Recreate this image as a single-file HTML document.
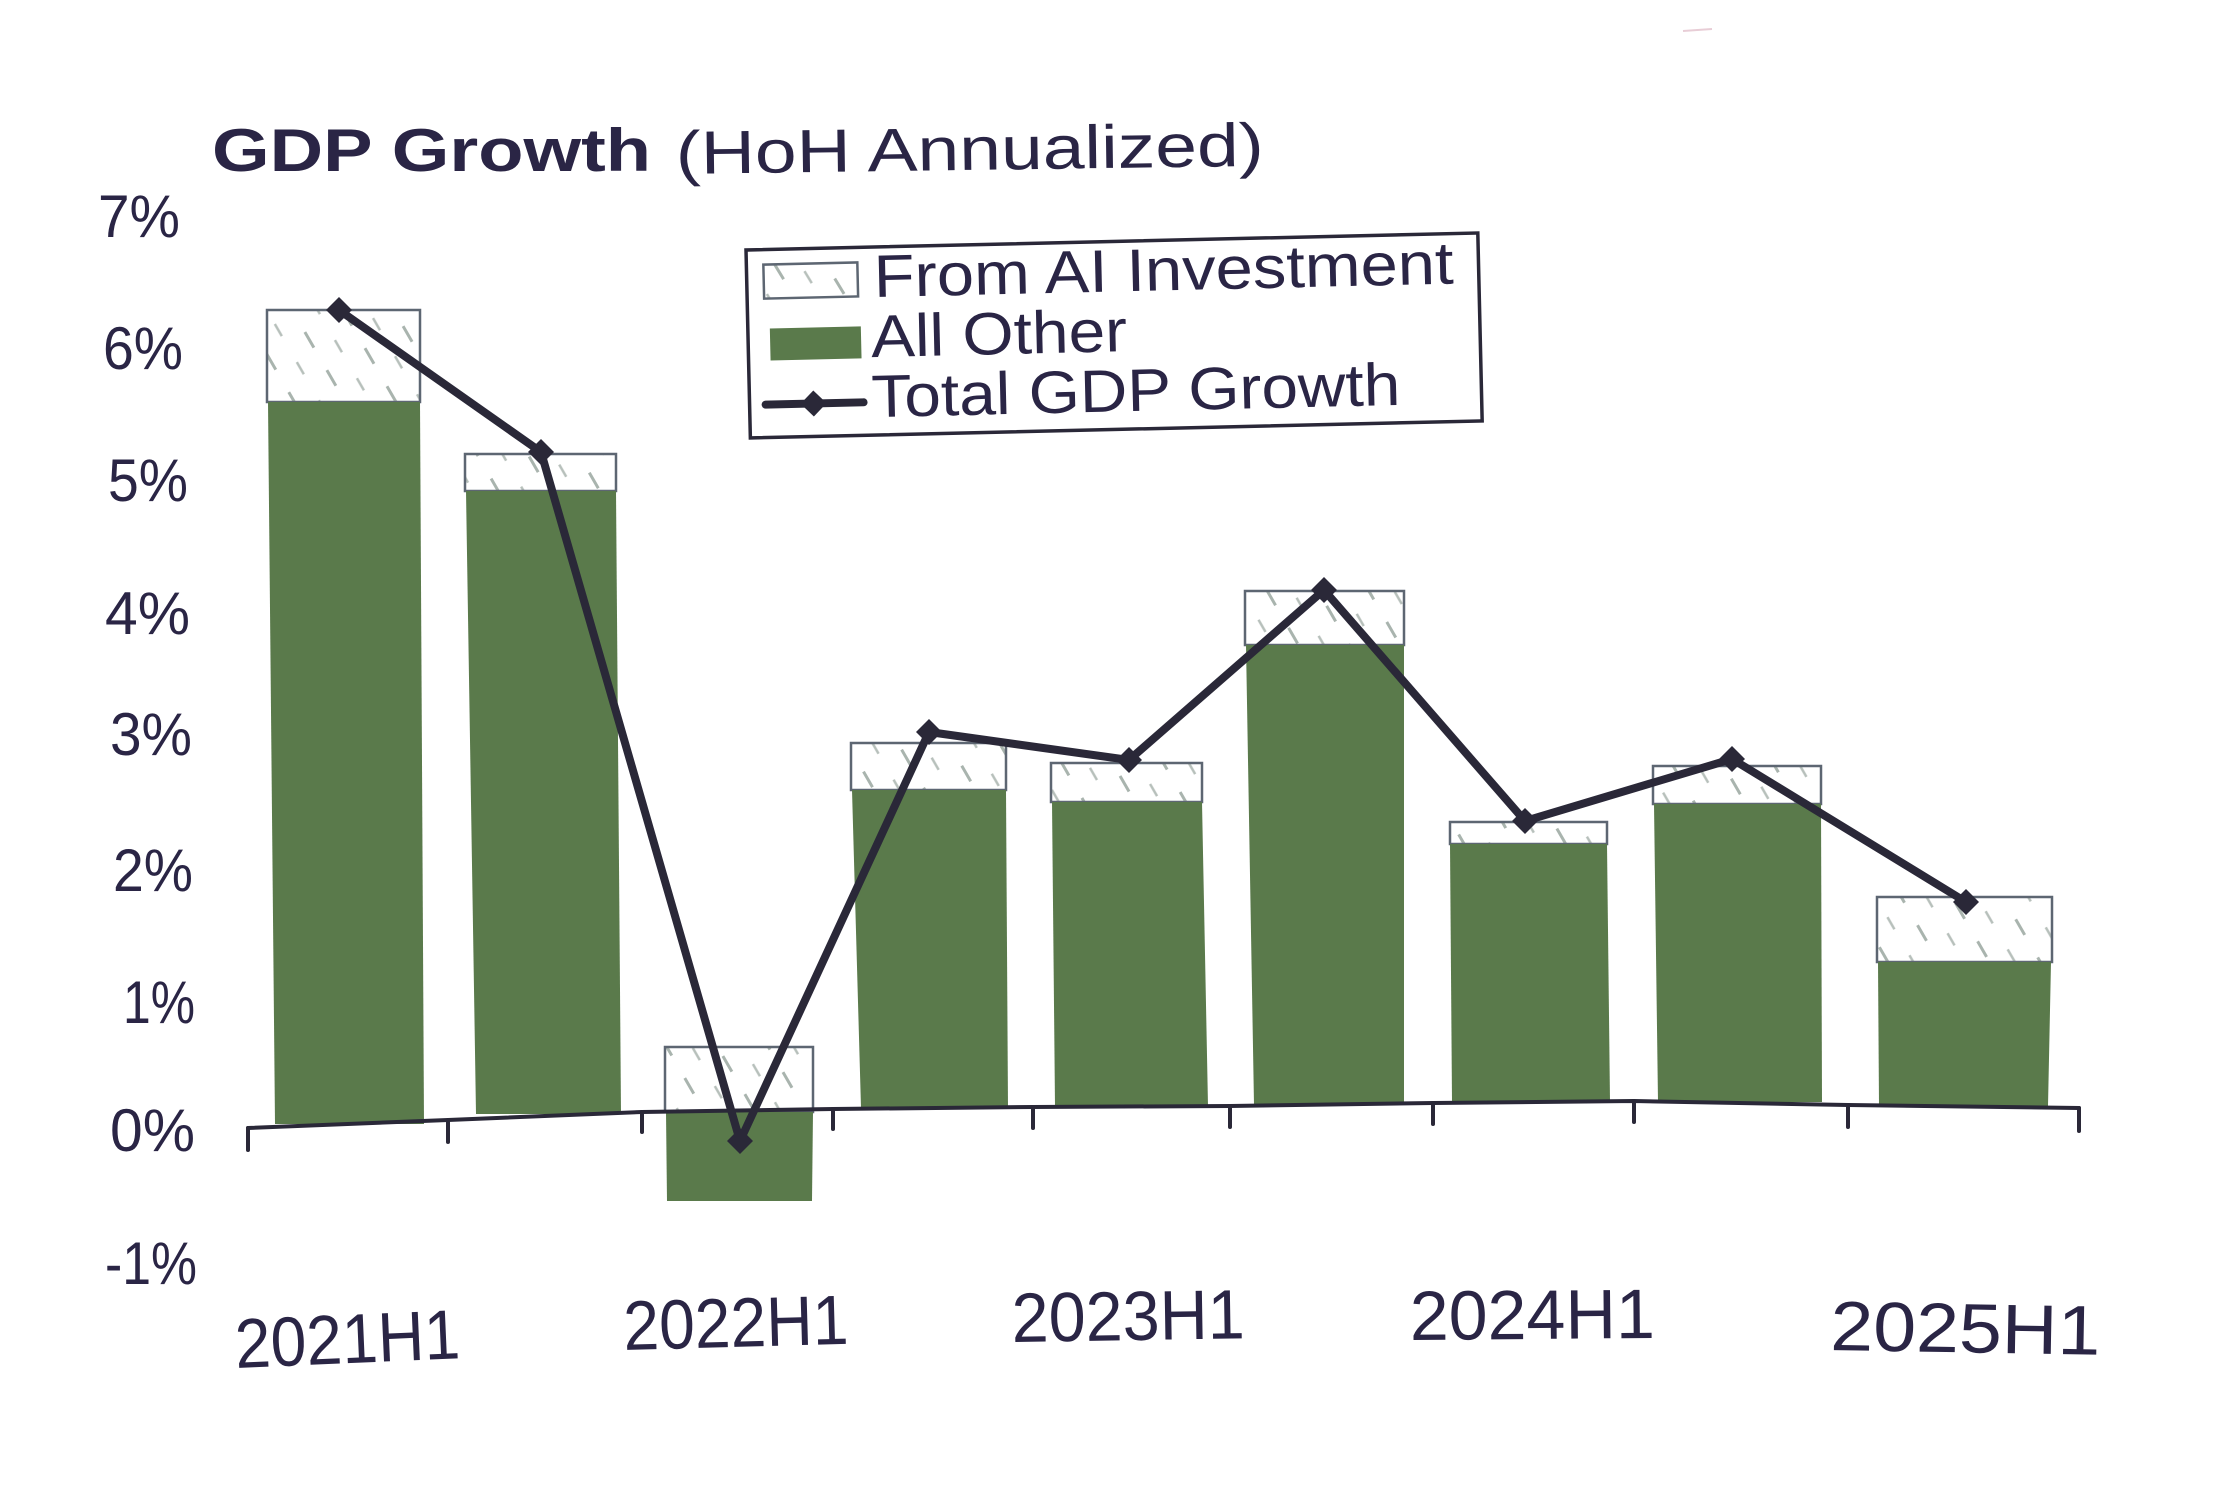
<!DOCTYPE html>
<html>
<head>
<meta charset="utf-8">
<style>
  html, body { margin: 0; padding: 0; background: #ffffff; }
  body { width: 2232px; height: 1498px; overflow: hidden; }
  svg { display: block; }
  text { font-family: "Liberation Sans", sans-serif; fill: #2a2545; }
</style>
</head>
<body>
<svg width="2232" height="1498" viewBox="0 0 2232 1498" xmlns="http://www.w3.org/2000/svg">
  <defs>
    <pattern id="hatch" patternUnits="userSpaceOnUse" width="44" height="44" patternTransform="rotate(-30)">
      <rect width="44" height="44" fill="#ffffff"/>
      <line x1="10" y1="0" x2="10" y2="18" stroke="#a9b4ae" stroke-width="3"/>
      <line x1="32" y1="22" x2="32" y2="36" stroke="#b7c0bb" stroke-width="2.5"/>
    </pattern>
  </defs>

  <rect width="2232" height="1498" fill="#ffffff"/>
  <line x1="1683" y1="31" x2="1712" y2="29" stroke="#e8cdd6" stroke-width="2"/>

  <!-- Title -->
  <text x="212" y="171" font-size="60" font-weight="bold" textLength="439" lengthAdjust="spacingAndGlyphs">GDP Growth</text>
  <g transform="rotate(-0.8 676 174)">
    <text x="676" y="174" font-size="61" textLength="588" lengthAdjust="spacingAndGlyphs">(HoH Annualized)</text>
  </g>

  <!-- Y axis labels -->
  <g font-size="60">
    <text x="98" y="237" textLength="82" lengthAdjust="spacingAndGlyphs">7%</text>
    <text x="103" y="369" textLength="80" lengthAdjust="spacingAndGlyphs">6%</text>
    <text x="108" y="501" textLength="80" lengthAdjust="spacingAndGlyphs">5%</text>
    <text x="105" y="634" textLength="85" lengthAdjust="spacingAndGlyphs">4%</text>
    <text x="110" y="755" textLength="82" lengthAdjust="spacingAndGlyphs">3%</text>
    <text x="113" y="891" textLength="80" lengthAdjust="spacingAndGlyphs">2%</text>
    <text x="123" y="1023" textLength="72" lengthAdjust="spacingAndGlyphs">1%</text>
    <text x="110" y="1151" textLength="85" lengthAdjust="spacingAndGlyphs">0%</text>
    <text x="105" y="1284" textLength="92" lengthAdjust="spacingAndGlyphs">-1%</text>
  </g>

  <!-- Bars: hatched (AI) parts -->
  <g stroke="#5d6672" stroke-width="2.5" fill="url(#hatch)">
    <rect x="267" y="310" width="153" height="92"/>
    <rect x="465" y="454" width="151" height="37"/>
    <rect x="665" y="1047" width="148" height="65"/>
    <rect x="851" y="743" width="155" height="47"/>
    <rect x="1051" y="763" width="151" height="39"/>
    <rect x="1245" y="591" width="159" height="54"/>
    <rect x="1450" y="822" width="157" height="22"/>
    <rect x="1653" y="766" width="168" height="38"/>
    <rect x="1877" y="897" width="175" height="65"/>
  </g>

  <!-- Bars: green (All Other) parts -->
  <g fill="#5a7a4b">
    <polygon points="268,402 420,402 424,1124 275,1124"/>
    <polygon points="466,491 616,491 621,1114 476,1114"/>
    <polygon points="666,1112 813,1112 812,1201 667,1201"/>
    <polygon points="852,790 1006,790 1008,1108 861,1108"/>
    <polygon points="1052,802 1202,802 1208,1106 1055,1106"/>
    <polygon points="1246,645 1404,645 1404,1105 1254,1105"/>
    <polygon points="1450,844 1607,844 1610,1102 1452,1102"/>
    <polygon points="1654,804 1821,804 1822,1102 1658,1102"/>
    <polygon points="1878,962 2051,962 2048,1106 1879,1106"/>
  </g>

  <!-- X axis -->
  <g stroke="#2a2838" stroke-width="4" fill="none" stroke-linecap="round">
    <polyline points="248,1128 448,1120 642,1112 833,1109 1033,1107 1230,1106 1433,1103 1634,1101 1848,1105 2079,1108"/>
    <line x1="248" y1="1128" x2="248" y2="1150"/>
    <line x1="448" y1="1120" x2="448" y2="1142"/>
    <line x1="642" y1="1112" x2="642" y2="1132"/>
    <line x1="833" y1="1109" x2="833" y2="1129"/>
    <line x1="1033" y1="1107" x2="1033" y2="1128"/>
    <line x1="1230" y1="1106" x2="1230" y2="1127"/>
    <line x1="1433" y1="1103" x2="1433" y2="1124"/>
    <line x1="1634" y1="1101" x2="1634" y2="1122"/>
    <line x1="1848" y1="1105" x2="1848" y2="1127"/>
    <line x1="2079" y1="1108" x2="2079" y2="1131"/>
  </g>

  <!-- Total GDP growth line -->
  <polyline points="339,310 541,452 740,1141 929,732 1129,760 1324,590 1525,821 1732,759 1966,902"
            fill="none" stroke="#2a2838" stroke-width="8" stroke-linejoin="round" stroke-linecap="round"/>
  <g fill="#2a2838">
    <polygon points="339,297 352,310 339,323 326,310"/>
    <polygon points="541,439 554,452 541,465 528,452"/>
    <polygon points="740,1128 753,1141 740,1154 727,1141"/>
    <polygon points="929,719 942,732 929,745 916,732"/>
    <polygon points="1129,747 1142,760 1129,773 1116,760"/>
    <polygon points="1324,577 1337,590 1324,603 1311,590"/>
    <polygon points="1525,808 1538,821 1525,834 1512,821"/>
    <polygon points="1732,746 1745,759 1732,772 1719,759"/>
    <polygon points="1966,889 1979,902 1966,915 1953,902"/>
  </g>

  <!-- X labels -->
  <g font-size="70">
    <text x="236" y="1368" textLength="225" lengthAdjust="spacingAndGlyphs" transform="rotate(-2.5 236 1368)">2021H1</text>
    <text x="624" y="1350" textLength="225" lengthAdjust="spacingAndGlyphs" transform="rotate(-1.6 624 1350)">2022H1</text>
    <text x="1012" y="1342" textLength="233" lengthAdjust="spacingAndGlyphs" transform="rotate(-0.9 1012 1342)">2023H1</text>
    <text x="1410" y="1340" textLength="245" lengthAdjust="spacingAndGlyphs" transform="rotate(-0.5 1410 1340)">2024H1</text>
    <text x="1830" y="1350" textLength="270" lengthAdjust="spacingAndGlyphs" transform="rotate(1 1830 1350)">2025H1</text>
  </g>

  <!-- Legend -->
  <g transform="rotate(-1.33 746 250)">
    <rect x="746" y="250" width="732" height="188" fill="#ffffff" stroke="#2a2838" stroke-width="3.5"/>
    <rect x="763" y="265" width="94" height="34" fill="url(#hatch)" stroke="#5d6672" stroke-width="2.5"/>
    <text x="873" y="300" font-size="60" textLength="580" lengthAdjust="spacingAndGlyphs">From AI Investment</text>
    <rect x="768" y="329" width="91" height="32" fill="#5a7a4b"/>
    <text x="869" y="360" font-size="60" textLength="256" lengthAdjust="spacingAndGlyphs">All Other</text>
    <line x1="762" y1="405" x2="860" y2="405" stroke="#2a2838" stroke-width="8" stroke-linecap="round"/>
    <polygon points="810,392 823,405 810,418 797,405" fill="#2a2838"/>
    <text x="868" y="420" font-size="60" textLength="529" lengthAdjust="spacingAndGlyphs">Total GDP Growth</text>
  </g>
</svg>
</body>
</html>
